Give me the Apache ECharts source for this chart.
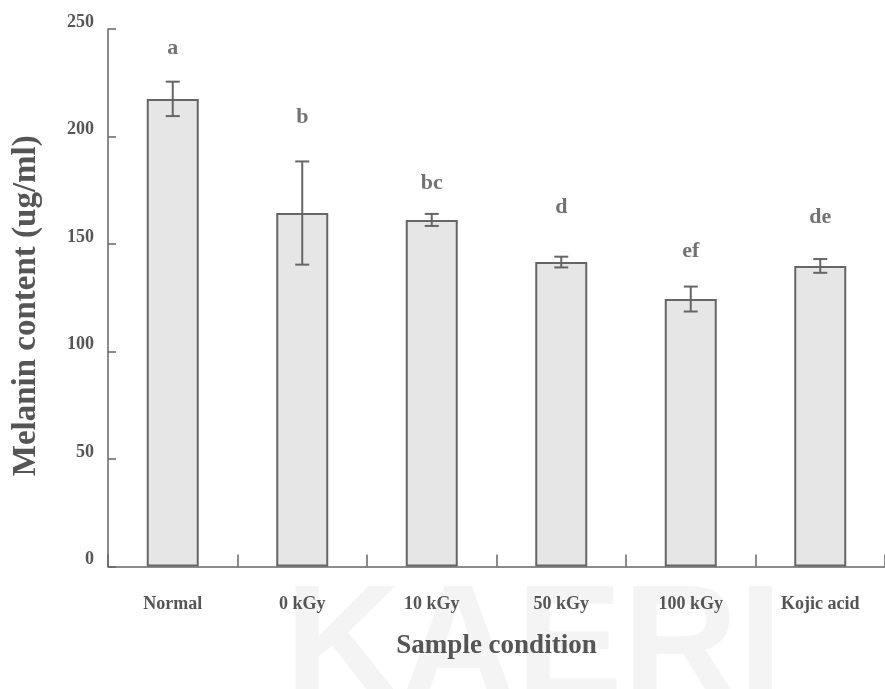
<!DOCTYPE html>
<html>
<head>
<meta charset="utf-8">
<script src="https://cdn.jsdelivr.net/npm/echarts@6/dist/echarts.min.js"></script>
<style>html,body{margin:0;padding:0;background:#fff;}#c{width:885px;height:689px;}</style>
</head>
<body>
<div id="c"></div>
<script>
const categories = ['Normal', '0 kGy', '10 kGy', '50 kGy', '100 kGy', 'Kojic acid'];
const melanin = [217.5, 164.4, 161.2, 141.6, 124.4, 139.8];
const errors = [8, 24, 2.8, 2.5, 5.8, 3.2];
const letters = ['a', 'b', 'bc', 'd', 'ef', 'de'];
const letterHeights = [241, 209, 178.4, 167.2, 146.7, 162.6];
const yTicks = [0, 50, 100, 150, 200, 250];

const textColor = '#555555';
const lineColor = '#666666';
const serif = '"Liberation Serif", "Times New Roman", serif';

const chart = echarts.init(document.getElementById('c'));
chart.setOption({
  animation: false,
  backgroundColor: '#ffffff',
  graphic: [{
    type: 'text', left: 285, top: 572, z: -10, silent: true,
    style: { text: 'KAERI', fill: '#f4f4f4', font: 'bold 160px "Liberation Sans", Arial, sans-serif' }
  }],
  grid: { left: 108, right: -3, top: 29, bottom: 122.5 },
  xAxis: {
    type: 'category',
    data: categories,
    boundaryGap: true,
    name: 'Sample condition',
    nameLocation: 'middle',
    nameGap: 66,
    nameTextStyle: { fontFamily: serif, fontWeight: 'bold', fontSize: 27, color: textColor },
    axisLine: { lineStyle: { color: lineColor, width: 1.5 } },
    axisTick: { show: true, inside: true, length: 12, lineStyle: { color: lineColor, width: 1.5 } },
    axisLabel: { margin: 29, fontFamily: serif, fontWeight: 'bold', fontSize: 18, color: textColor },
    splitLine: { show: false }
  },
  yAxis: {
    type: 'value',
    min: 0, max: 250, interval: 50,
    name: 'Melanin content (ug/ml)',
    nameLocation: 'middle',
    nameGap: 65,
    nameTextStyle: { fontFamily: serif, fontWeight: 'bold', fontSize: 33, color: textColor, padding: [0, 16, 0, 0] },
    axisLine: { show: true, lineStyle: { color: lineColor, width: 1.5 } },
    axisTick: { show: true, inside: true, length: 8, lineStyle: { color: lineColor, width: 1.5 } },
    axisLabel: {
      margin: 14, fontFamily: serif, fontWeight: 'bold', fontSize: 18, color: textColor,
      verticalAlign: 'bottom', lineHeight: 14,
      formatter: v => yTicks.includes(v) ? String(v) : ''
    },
    splitLine: { show: false }
  },
  series: [
    {
      type: 'bar',
      data: melanin,
      barWidth: 52,
      itemStyle: { color: '#e6e6e6', borderColor: lineColor, borderWidth: 2 },
      z: 2
    },
    {
      type: 'custom',
      data: melanin.map((v, i) => [i, v - errors[i], v + errors[i]]),
      renderItem: function (params, api) {
        const i = api.value(0);
        const lo = api.coord([i, api.value(1)]);
        const hi = api.coord([i, api.value(2)]);
        const hw = 7;
        const st = { stroke: lineColor, lineWidth: 2 };
        return {
          type: 'group',
          children: [
            { type: 'line', shape: { x1: lo[0], y1: lo[1], x2: hi[0], y2: hi[1] }, style: st },
            { type: 'line', shape: { x1: lo[0] - hw, y1: lo[1], x2: lo[0] + hw, y2: lo[1] }, style: st },
            { type: 'line', shape: { x1: hi[0] - hw, y1: hi[1], x2: hi[0] + hw, y2: hi[1] }, style: st }
          ]
        };
      },
      z: 5
    },
    {
      type: 'scatter',
      data: letterHeights.map((h, i) => [i, h]),
      symbolSize: 1,
      itemStyle: { color: 'rgba(0,0,0,0)' },
      label: {
        show: true, position: 'inside',
        formatter: p => letters[p.dataIndex],
        fontFamily: serif, fontWeight: 'bold', fontSize: 22, color: '#4f4f4f'
      },
      z: 6
    }
  ]
});
</script>
</body>
</html>
